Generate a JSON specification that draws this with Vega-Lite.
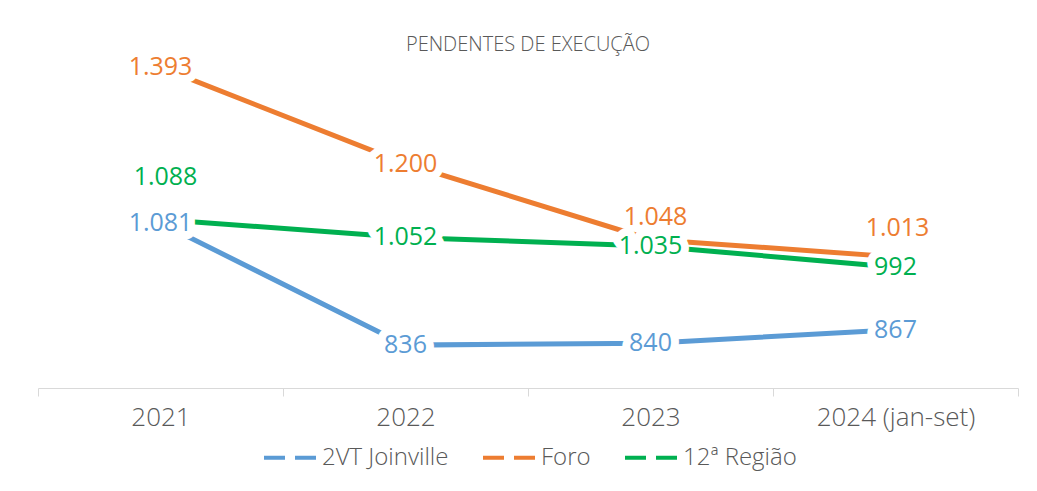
{
  "$schema": "https://vega.github.io/schema/vega-lite/v6.json",
  "width": 980,
  "height": 349,
  "autosize": "none",
  "padding": {"left": 38, "top": 39, "right": 19, "bottom": 103},
  "background": "white",
  "title": {"text": "PENDENTES DE EXECUÇÃO", "font": "Open Sans", "fontSize": 20, "fontWeight": 300, "color": "#595959", "offset": -16, "anchor": "middle"},
  "config": {"view": {"stroke": null}},
  "data": {"values": [
    {"ano": "2021", "serie": "2VT Joinville", "valor": 1081, "rotulo": "1.081"},
    {"ano": "2022", "serie": "2VT Joinville", "valor": 836, "rotulo": "836"},
    {"ano": "2023", "serie": "2VT Joinville", "valor": 840, "rotulo": "840"},
    {"ano": "2024 (jan-set)", "serie": "2VT Joinville", "valor": 867, "rotulo": "867"},
    {"ano": "2021", "serie": "Foro", "valor": 1393, "rotulo": "1.393"},
    {"ano": "2022", "serie": "Foro", "valor": 1200, "rotulo": "1.200"},
    {"ano": "2023", "serie": "Foro", "valor": 1048, "rotulo": "1.048"},
    {"ano": "2024 (jan-set)", "serie": "Foro", "valor": 1013, "rotulo": "1.013"},
    {"ano": "2021", "serie": "12ª Região", "valor": 1088, "rotulo": "1.088"},
    {"ano": "2022", "serie": "12ª Região", "valor": 1052, "rotulo": "1.052"},
    {"ano": "2023", "serie": "12ª Região", "valor": 1035, "rotulo": "1.035"},
    {"ano": "2024 (jan-set)", "serie": "12ª Região", "valor": 992, "rotulo": "992"}
  ]},
  "encoding": {
    "x": {
      "field": "ano", "type": "nominal", "bandPosition": 0.5,
      "sort": ["2021", "2022", "2023", "2024 (jan-set)"],
      "scale": {"type": "band", "paddingInner": 0, "paddingOuter": 0},
      "axis": {"title": null, "labelAngle": 0, "tickBand": "extent", "domainColor": "#D9D9D9", "domainWidth": 1, "tickColor": "#D9D9D9", "tickSize": 8, "labelPadding": 8, "labelFont": "Open Sans", "labelFontSize": 26, "labelFontWeight": 300, "labelColor": "#595959", "grid": false}
    },
    "y": {"field": "valor", "type": "quantitative", "scale": {"domain": [750, 1450]}, "axis": null},
    "color": {
      "field": "serie", "type": "nominal",
      "scale": {"domain": ["2VT Joinville", "Foro", "12ª Região"], "range": ["#5B9BD5", "#ED7D31", "#00B050"]},
      "legend": {"title": null, "orient": "none", "direction": "horizontal", "legendX": 224, "legendY": 390, "symbolType": "stroke", "symbolStrokeWidth": 4, "symbolDash": [21, 10], "symbolSize": 2809, "labelFont": "Open Sans", "labelFontSize": 24, "labelFontWeight": 300, "labelColor": "#595959", "labelOffset": 3, "columnPadding": 26}
    }
  },
  "layer": [
    {"mark": {"type": "line", "strokeWidth": 5, "strokeCap": "butt"}},
    {
      "transform": [{"filter": "!((datum.serie == 'Foro' && (datum.ano == '2023' || datum.ano == '2024 (jan-set)')) || (datum.serie == '12ª Região' && datum.ano == '2021'))"}],
      "mark": {"type": "text", "font": "Open Sans", "fontSize": 25, "baseline": "middle", "stroke": "white", "strokeWidth": 16, "strokeJoin": "round"},
      "encoding": {"text": {"field": "rotulo"}, "color": {"value": "white"}}
    },
    {
      "transform": [{"filter": "!((datum.serie == 'Foro' && (datum.ano == '2023' || datum.ano == '2024 (jan-set)')) || (datum.serie == '12ª Região' && datum.ano == '2021'))"}],
      "mark": {"type": "text", "font": "Open Sans", "fontSize": 25, "baseline": "middle"},
      "encoding": {"text": {"field": "rotulo"}}
    },
    {
      "transform": [{"filter": "datum.serie == 'Foro' && datum.ano == '2023'"}],
      "mark": {"type": "text", "font": "Open Sans", "fontSize": 25, "baseline": "middle", "dx": 5, "dy": -22},
      "encoding": {"text": {"field": "rotulo"}}
    },
    {
      "transform": [{"filter": "datum.serie == 'Foro' && datum.ano == '2024 (jan-set)'"}],
      "mark": {"type": "text", "font": "Open Sans", "fontSize": 25, "baseline": "middle", "dx": 2, "dy": -29},
      "encoding": {"text": {"field": "rotulo"}}
    },
    {
      "transform": [{"filter": "datum.serie == '12ª Região' && datum.ano == '2021'"}],
      "mark": {"type": "text", "font": "Open Sans", "fontSize": 25, "baseline": "middle", "dx": 5, "dy": -42},
      "encoding": {"text": {"field": "rotulo"}}
    }
  ]
}
